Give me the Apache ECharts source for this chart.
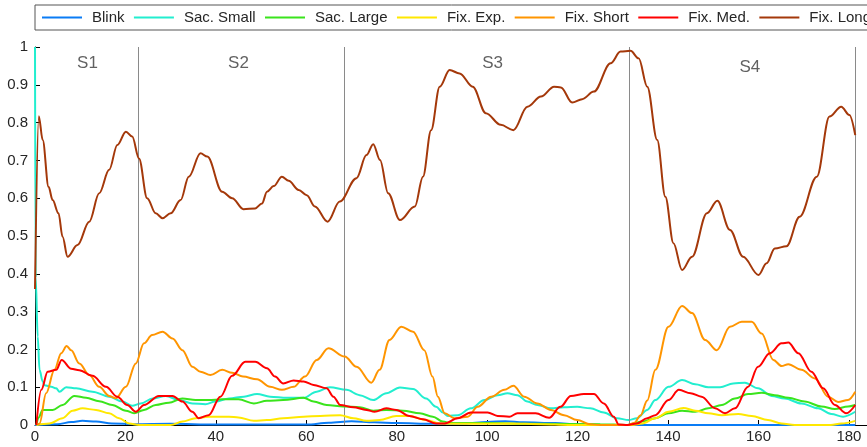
<!DOCTYPE html>
<html>
<head>
<meta charset="utf-8">
<script src="https://cdn.jsdelivr.net/npm/echarts@6/dist/echarts.min.js"></script>
<style>
  html, body { margin: 0; padding: 0; background: #fff; }
  #chart { width: 867px; height: 447px; }
</style>
</head>
<body>
<div id="chart"></div>
<script>
// Series names, in legend order
const seriesNames = ['Blink', 'Sac. Small', 'Sac. Large', 'Fix. Exp.', 'Fix. Short', 'Fix. Med.', 'Fix. Long'];

// Proportion of time per category, sampled along the timeline [t, value]
const blinkData = [[0,0],[5,0.002],[8,0.008],[10.5,0.011],[13.5,0.009],[17,0.004],[22,0.002],[30,0.003],[40,0.001],[60,0.001],[65,0.006],[70,0.01],[75,0.007],[80,0.005],[88,0.003],[95,0.004],[100,0.008],[104,0.01],[108,0.007],[115,0.005],[120,0.002],[125,0],[181.4,0]];

const sacSmallData = [[0,1.0],[0.15,0.39],[0.6,0.234],[1.0,0.146],[1.7,0.115],[2.1,0.105],[3.6,0.101],[4.7,0.097],[5.4,0.088],[6.9,0.1],[9.1,0.097],[12.7,0.088],[16.4,0.075],[19.3,0.062],[21.5,0.051],[23.4,0.057],[26.0,0.07],[28.9,0.077],[31.9,0.066],[34.8,0.057],[37.7,0.055],[39.9,0.062],[42.9,0.07],[46.2,0.075],[49.1,0.082],[52.0,0.075],[55.7,0.072],[59.4,0.072],[62.3,0.088],[65.2,0.1],[68.9,0.093],[71.8,0.079],[74.8,0.066],[77.7,0.084],[80.7,0.099],[83.6,0.095],[86.5,0.07],[88.7,0.048],[90.2,0.033],[91.3,0.024],[93.5,0.026],[96.4,0.044],[99.4,0.066],[102.3,0.079],[104.5,0.084],[106.7,0.079],[108.9,0.062],[111.1,0.053],[114.1,0.044],[117.0,0.047],[119.9,0.048],[122.8,0.044],[125.8,0.033],[128.7,0.018],[131.3,0.013],[133.1,0.018],[135.4,0.04],[137.2,0.066],[140.1,0.101],[143.1,0.119],[146.0,0.108],[148.9,0.1],[151.5,0.1],[154.4,0.11],[157.0,0.112],[159.9,0.097],[162.9,0.077],[165.8,0.07],[169.5,0.057],[173.2,0.044],[176.1,0.029],[178.7,0.022],[181.4,0.035]];

const sacLargeData = [[0.3,0.0],[0.8,0.02],[1.7,0.04],[3.9,0.04],[6.1,0.053],[8.7,0.077],[11.3,0.072],[14.2,0.063],[17.1,0.053],[20.1,0.038],[21.9,0.031],[24.1,0.04],[26.7,0.053],[29.6,0.059],[32.6,0.07],[35.5,0.066],[38.4,0.066],[41.4,0.068],[45.0,0.068],[48.4,0.057],[51.3,0.064],[54.9,0.066],[59.4,0.072],[61.6,0.062],[64.5,0.053],[68.2,0.049],[71.8,0.047],[74.8,0.038],[77.7,0.04],[81.4,0.038],[85.1,0.031],[88.0,0.022],[90.2,0.009],[92,0.005],[100,0.005],[110,0.003],[125,0.002],[131,0.0],[134.3,0.009],[137.2,0.018],[140.1,0.031],[143.1,0.038],[146.0,0.035],[148.9,0.044],[151.9,0.053],[154.8,0.07],[157.7,0.082],[160.7,0.085],[163.6,0.079],[166.6,0.072],[170.2,0.062],[173.9,0.049],[176.9,0.042],[179.8,0.049],[181.4,0.053]];

const fixExpData = [[0.3,0],[3.2,0.004],[6.1,0.018],[8.3,0.038],[10.5,0.044],[13.5,0.04],[16.4,0.031],[18.6,0.018],[20.8,0.004],[23.0,0],[30,0],[32.6,0.009],[35.5,0.018],[38.4,0.022],[42.9,0.022],[45.0,0.02],[48.4,0.011],[51.3,0.013],[54.9,0.018],[59.4,0.022],[63.1,0.024],[67.5,0.026],[70.4,0.018],[73.3,0.011],[76.2,0.013],[79.9,0.024],[82.8,0.024],[86.5,0.013],[89.5,0.004],[95,0.003],[105,0.004],[112,0.002],[118,0],[132,0],[134.3,0.004],[137.2,0.018],[140.1,0.035],[143.4,0.045],[146.0,0.038],[148.9,0.031],[151.9,0.026],[155.5,0.029],[158.5,0.024],[162.1,0.013],[165.1,0.004],[168,0],[176,0],[178.3,0.004],[181.4,0.011]];

const fixShortData = [[0.6,0],[1.0,0.004],[2.46,0.084],[4.3,0.146],[5.8,0.19],[7.0,0.209],[8.0,0.198],[9.8,0.163],[12.0,0.132],[14.2,0.101],[16.4,0.077],[17.9,0.071],[20.1,0.101],[22.3,0.163],[24.1,0.216],[25.9,0.238],[28.2,0.247],[30.4,0.229],[32.6,0.198],[34.8,0.154],[36.6,0.141],[38.8,0.132],[41.4,0.146],[43.6,0.138],[46,0.128],[49.1,0.121],[52.0,0.101],[54.6,0.093],[57.2,0.101],[59.7,0.128],[62.3,0.172],[64.9,0.203],[68.5,0.181],[71.1,0.154],[74.4,0.112],[76.2,0.146],[78.4,0.225],[81.0,0.26],[83.6,0.247],[86.1,0.198],[87.9,0.128],[89.1,0.075],[90.6,0.031],[92.8,0.018],[95.7,0.022],[97.9,0.048],[100.9,0.075],[103.8,0.093],[105.8,0.104],[108.2,0.075],[111.1,0.057],[114.1,0.04],[117.0,0.026],[119.9,0.013],[122.8,0.002],[125,0],[131,0],[132.5,0.005],[133.9,0.025],[135.4,0.065],[137.2,0.146],[140.1,0.26],[143.1,0.315],[145.3,0.296],[148.2,0.225],[150.8,0.198],[153.7,0.26],[156.3,0.273],[158.5,0.273],[160.7,0.242],[163.3,0.172],[165.1,0.156],[166.6,0.161],[169.5,0.146],[172.5,0.123],[175.4,0.075],[177.6,0.061],[179.8,0.066],[181.4,0.088]];

const fixMedData = [[0.3,0],[1.4,0.093],[2.8,0.141],[4.7,0.146],[5.9,0.172],[8.0,0.149],[9.8,0.145],[12.7,0.13],[15.7,0.101],[18.2,0.075],[20.4,0.053],[22.3,0.035],[24.1,0.053],[27.4,0.077],[30.4,0.077],[32.6,0.062],[34.8,0.035],[36.2,0.018],[38.4,0.026],[41.0,0.075],[43.6,0.13],[46.5,0.167],[48.7,0.167],[51.3,0.15],[53.1,0.128],[54.9,0.11],[57.2,0.118],[59.4,0.115],[61.6,0.106],[64.5,0.097],[66.0,0.075],[67.5,0.053],[70.4,0.047],[73.3,0.04],[75.1,0.035],[77.7,0.044],[79.9,0.04],[82.8,0.024],[85.8,0.015],[88.7,0.004],[90.6,0.004],[93.5,0.018],[96.4,0.033],[100.1,0.033],[102.3,0.024],[104.9,0.022],[106.7,0.031],[110.7,0.031],[113.7,0.019],[116.2,0.048],[118.5,0.077],[121.4,0.082],[123.6,0.082],[125.8,0.057],[128.0,0.022],[129.1,0.001],[131,0],[133.1,0.004],[135.4,0.018],[137.2,0.026],[140.1,0.066],[142.4,0.093],[145.0,0.084],[147.4,0.075],[150.4,0.044],[152.6,0.031],[154.8,0.044],[157.7,0.101],[159.9,0.154],[162.5,0.19],[165.1,0.216],[166.6,0.218],[168.8,0.19],[171.7,0.141],[174.3,0.097],[176.9,0.053],[179.4,0.031],[181.4,0.053]];

const fixLongData = [[0,0.36],[0.84,0.817],[1.7,0.754],[3.0,0.63],[3.9,0.595],[5.2,0.56],[6.1,0.498],[7.2,0.445],[9.4,0.476],[12.0,0.538],[14.2,0.613],[16.4,0.675],[18.2,0.741],[20.1,0.776],[21.5,0.763],[23.0,0.705],[24.8,0.6],[26.7,0.56],[28.2,0.547],[30.0,0.56],[32.2,0.595],[34.0,0.657],[36.6,0.719],[38.1,0.71],[41.4,0.617],[43.6,0.6],[46.1,0.571],[48.7,0.573],[50.2,0.586],[51.3,0.617],[52.8,0.632],[54.6,0.657],[56.1,0.646],[58.3,0.622],[60.1,0.608],[61.9,0.578],[64.7,0.538],[67.4,0.591],[71.1,0.653],[73.3,0.714],[74.8,0.743],[76.3,0.701],[78.1,0.613],[80.7,0.542],[84.0,0.578],[85.8,0.657],[87.6,0.78],[89.5,0.895],[91.7,0.939],[93.9,0.93],[96.8,0.895],[99.7,0.825],[103.0,0.794],[105.8,0.78],[108.9,0.842],[111.9,0.869],[114.8,0.895],[116.3,0.893],[118.8,0.853],[121.0,0.862],[123.6,0.882],[127.3,0.957],[129.5,0.988],[131.7,0.99],[133.5,0.97],[135.4,0.895],[137.6,0.754],[139.4,0.604],[141.2,0.481],[143.1,0.41],[145.3,0.445],[148.6,0.56],[150.9,0.593],[153.7,0.516],[156.6,0.445],[160.0,0.397],[161.8,0.428],[163.6,0.467],[166.2,0.473],[169.1,0.551],[172.9,0.657],[175.7,0.816],[178.3,0.842],[180.1,0.82],[181.4,0.767]];

// Segment boundaries and their labels
const segmentBounds = [22.8, 68.5, 131.4, 181.4];
const segmentLabels = ['S1', 'S2', 'S3', 'S4'];
const segmentLabelX = [11.6, 45.0, 101.2, 158.1];
const segmentLabelY = [0.957, 0.957, 0.957, 0.946];

const seriesColors = ['#0a7cf5', '#22eecf', '#3ae41c', '#ffe800', '#ff9500', '#ff0000', '#a4380a'];
const seriesData = [blinkData, sacSmallData, sacLargeData, fixExpData, fixShortData, fixMedData, fixLongData];

const FONT = '"Liberation Sans", Arial, sans-serif';
const TEXT = '#262626';

const series = seriesNames.map((name, i) => {
  const s = {
    name: name,
    type: 'line',
    data: seriesData[i],
    symbol: 'none',
    smooth: 0.35,
    smoothMonotone: 'x',
    color: seriesColors[i],
    lineStyle: { width: 2, color: seriesColors[i] },
    z: 3 + i,
    silent: true
  };
  if (i === 0) {
    s.markLine = {
      silent: true,
      symbol: ['none', 'none'],
      label: { show: false },
      lineStyle: { color: '#8a8a8a', width: 1, type: 'solid' },
      data: segmentBounds.map(x => ({ xAxis: x }))
    };
  }
  return s;
});

series.push({
  name: 'segments',
  type: 'scatter',
  symbolSize: 0,
  silent: true,
  data: segmentLabels.map((t, i) => ({ name: t, value: [segmentLabelX[i], segmentLabelY[i]] })),
  label: {
    show: true,
    position: 'inside',
    formatter: '{b}',
    fontFamily: FONT,
    fontSize: 17,
    color: '#3a3a3a'
  }
});

const chart = echarts.init(document.getElementById('chart'), null, { renderer: 'canvas' });
chart.setOption({
  animation: false,
  backgroundColor: '#ffffff',
  legend: {
    data: seriesNames.map(n => ({ name: n, icon: 'rect' })),
    left: 35,
    top: 5,
    width: 1400,
    orient: 'horizontal',
    padding: [5, 7, 5, 7],
    itemWidth: 40,
    itemHeight: 2,
    itemGap: 9.4,
    borderColor: '#555',
    borderWidth: 1,
    borderRadius: 0,
    textStyle: { fontFamily: FONT, fontSize: 15, color: TEXT, padding: [0, 0, 0, 5] }
  },
  grid: { left: 35, top: 47, width: 836, height: 378 },
  xAxis: {
    type: 'value',
    min: 0,
    max: 184,
    interval: 20,
    axisLine: { lineStyle: { color: '#000', width: 1 } },
    axisTick: { inside: true, length: 5, lineStyle: { color: '#000' } },
    splitLine: { show: false },
    axisLabel: {
      fontFamily: FONT, fontSize: 15, color: TEXT, margin: 4,
      showMaxLabel: false,
      formatter: v => (v % 20 === 0 ? String(v) : '')
    }
  },
  yAxis: {
    type: 'value',
    min: 0,
    max: 1,
    interval: 0.1,
    axisLine: { show: true, lineStyle: { color: '#000', width: 1 } },
    axisTick: { show: true, inside: true, length: 5, lineStyle: { color: '#000' } },
    splitLine: { show: false },
    axisLabel: {
      fontFamily: FONT, fontSize: 15, color: TEXT, margin: 7,
      formatter: v => String(Math.round(v * 10) / 10)
    }
  },
  series: series
});
</script>
</body>
</html>
